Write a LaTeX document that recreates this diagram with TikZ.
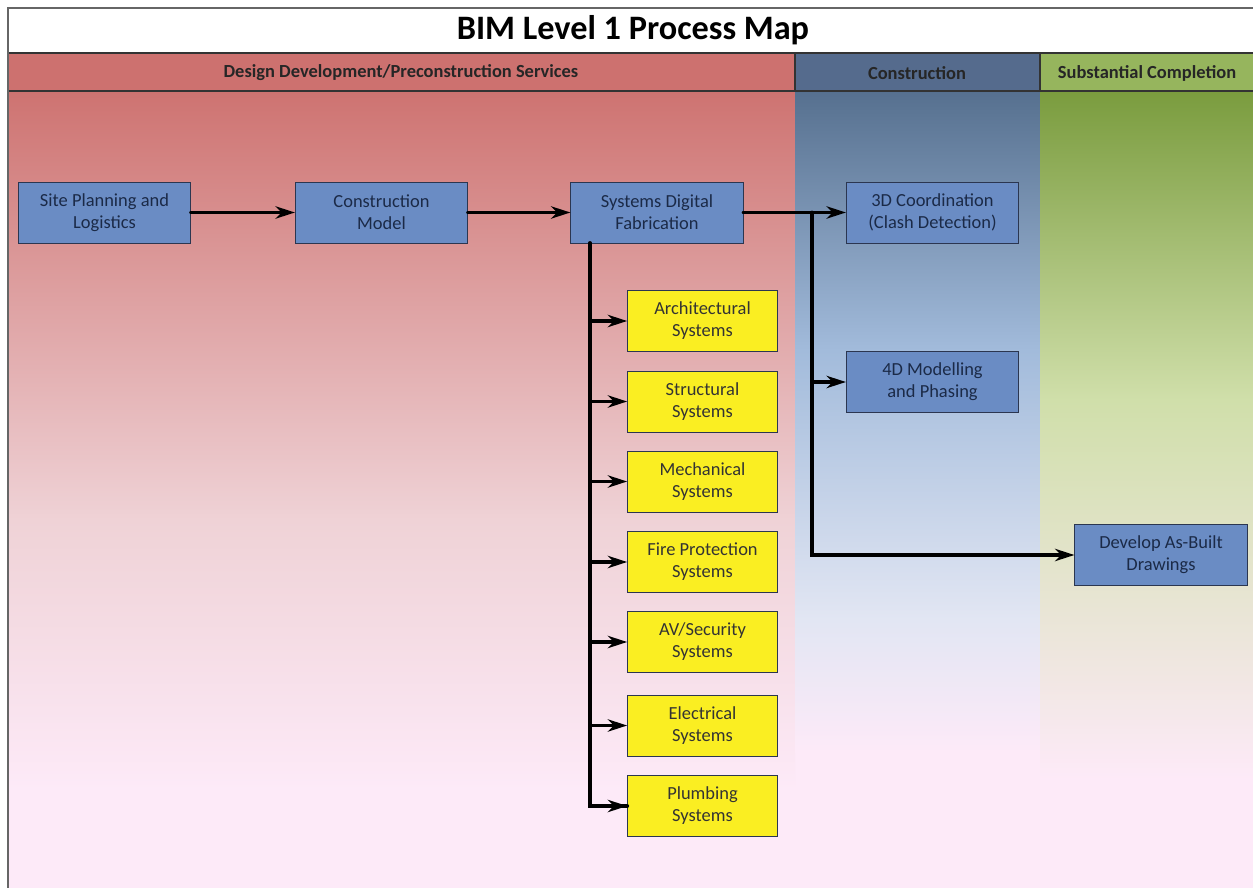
\documentclass[tikz,border=0pt]{standalone}
\usepackage{fontspec}
\setmainfont{Carlito}
\usepackage{tikz}
\usetikzlibrary{arrows.meta,calc,positioning}

\definecolor{redhead}{HTML}{CD716F}
\definecolor{bluehead}{HTML}{556B8D}
\definecolor{greenhead}{HTML}{96B55D}
\definecolor{redtop}{HTML}{CE7371}
\definecolor{redmid}{HTML}{EFD2D6}
\definecolor{bluetop}{HTML}{56708F}
\definecolor{bluemid}{HTML}{A2BBDB}
\definecolor{bluelow}{HTML}{E2E6F3}
\definecolor{greentop}{HTML}{7A9C3E}
\definecolor{greenmid}{HTML}{D0DFAA}
\definecolor{pinklow}{HTML}{FDEAF8}
\definecolor{boxblue}{HTML}{6A8CC4}
\definecolor{boxline}{HTML}{2B3650}
\definecolor{boxtext}{HTML}{1B2A47}
\definecolor{boxyellow}{HTML}{FAEE22}

\tikzset{
  stage/.style={draw=boxline, fill=boxblue, text=boxtext, align=center,
    minimum width=3.45cm, minimum height=1.22cm,
    font=\fontsize{10.5}{12.5}\selectfont},
  system/.style={draw=boxline, fill=boxyellow, text=black!80, align=center,
    minimum width=3cm, minimum height=1.22cm,
    font=\fontsize{10.5}{12.5}\selectfont},
  head/.style={font=\fontsize{10.5}{12}\selectfont\bfseries, text=black!85},
  link/.style={line width=2.2pt, line cap=round},
  arr/.style={link, -{Stealth[length=11pt,width=7pt,inset=3.5pt]}},
}

\begin{document}
\begin{tikzpicture}[x=0.02cm,y=-0.02cm]
  \useasboundingbox (0,0) rectangle (1253,888);
  % column backgrounds
  \fill[pinklow] (8,91) rectangle (1253,888);
  \shade[top color=redtop, bottom color=redmid] (8,91) rectangle (795,520);
  \shade[top color=redmid, bottom color=pinklow] (8,520) rectangle (795,790);
  \shade[top color=bluetop, bottom color=bluemid] (795,91) rectangle (1040,350);
  \shade[top color=bluemid, bottom color=bluelow] (795,350) rectangle (1040,620);
  \shade[top color=bluelow, bottom color=pinklow] (795,620) rectangle (1040,752);
  \shade[top color=greentop, bottom color=greenmid] (1040,91) rectangle (1253,400);
  \shade[top color=greenmid, bottom color=pinklow] (1040,400) rectangle (1253,780);
  % header band
  \fill[white] (8,8) rectangle (1253,53);
  \fill[redhead] (8,53) rectangle (795,91);
  \fill[bluehead] (795,53) rectangle (1040,91);
  \fill[greenhead] (1040,53) rectangle (1253,91);
  \draw[black!80, thick] (8,53) -- (1253,53);
  \draw[black!80, thick] (8,91) -- (1253,91);
  \draw[black!80, thick] (795,53) -- (795,91);
  \draw[black!80, thick] (1040,53) -- (1040,91);
  \draw[black!60, thick] (8,888) -- (8,8) -- (1253,8);

  \node[font=\fontsize{19.5}{24}\selectfont\bfseries] (title) at (633,30) {BIM Level 1 Process Map};
  \node[head] (hdesign) at (401,73) {Design Development/Preconstruction Services};
  \node[head] (hconst) at (917,73) {Construction};
  \node[head] (hcompl) at (1147,73) {Substantial Completion};

  % main process
  \node[stage] (site) at (104.5,212.5) {Site Planning and\\Logistics};
  \node[stage] (model) at (381.5,212.5) {Construction\\Model};
  \node[stage] (digital) at (657,212.5) {Systems Digital\\Fabrication};
  \node[stage] (clash) at (932.5,212.5) {3D Coordination\\(Clash Detection)};
  \node[stage] (phasing) at (932.5,382) {4D Modelling\\and Phasing};
  \node[stage] (asbuilt) at (1161,555) {Develop As-Built\\Drawings};

  % systems
  \foreach \name/\txt/\y in {arch/Architectural/321, struct/Structural/401.5,
      mech/Mechanical/481.5, fire/Fire Protection/562, av/{AV/Security}/642,
      elec/Electrical/725.5, plumb/Plumbing/806}
    \node[system] (\name) at (702.5,\y) {\txt\\Systems};

  \draw[arr] (site) -- (model);
  \draw[arr] (model) -- (digital);
  \draw[arr] (digital) -- (clash);

  % trunk down to the systems
  \coordinate (trunk) at (590,243);
  \draw[link] (trunk) |- (plumb.west);
  \foreach \name in {arch,struct,mech,fire,av,elec,plumb}
    \draw[arr] (trunk |- \name.west) -- (\name.west);

  % fork in construction
  \coordinate (fork) at (812,212.5);
  \draw[arr] (fork) |- (asbuilt.west);
  \draw[arr] (fork |- phasing.west) -- (phasing.west);
\end{tikzpicture}
\end{document}
